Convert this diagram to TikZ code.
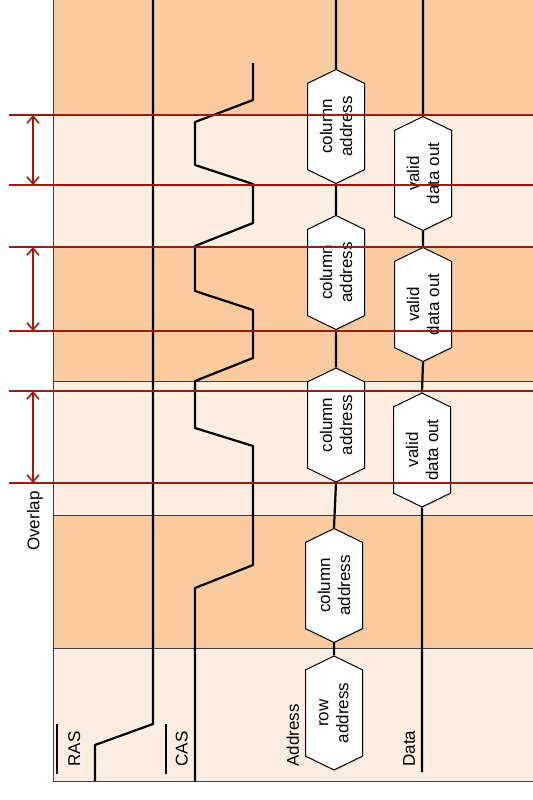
\documentclass[tikz,border=0pt]{standalone}
\usepackage{fontspec}
\setmainfont{Liberation Sans}
\usetikzlibrary{arrows.meta,shapes.symbols,shadows}
\definecolor{drk}{HTML}{F9CB9F}
\definecolor{lgt}{HTML}{FDEDE1}
\definecolor{ovl}{HTML}{9E1C0D}

\begin{document}
\begin{tikzpicture}[x=0.5pt,y=-0.5pt,
  sig/.style={line width=1.1pt,line join=round},
  hexa/.style={signal,signal to=east and west,signal pointer angle=128,
    draw,fill=white,line width=0.5pt,rotate=90,minimum width=57pt,
    minimum height=28.5pt,inner sep=0pt,align=center,
    font=\fontsize{8.5}{10}\selectfont,
    drop shadow={opacity=0.2,shadow xshift=0.6pt,shadow yshift=-0.6pt}},
  lbl/.style={rotate=90,inner sep=0pt,font=\fontsize{8.5}{10}\selectfont},
  >={Straight Barb[length=3.5pt,width=6pt]}]
  \useasboundingbox (0,0) rectangle (533,800);
  \clip (0,0) rectangle (533,800);
  % bands
  \foreach \ya/\yb/\c in {-5/115/drk,115/247/lgt,247/381/drk,381/515/lgt,515/648/drk,648/781/lgt}
    \draw[fill=\c,draw=black!75,line width=0.4pt] (53,\ya) rectangle (545,\yb);
  % RAS and CAS
  \draw[sig] (95,781)--(95,745)--(153,724)--(153,-5);
  \draw[sig] (253,63)--(253,100)--(195,122)--(195,165)--(253,184)--(253,223)
    --(195,246)--(195,291)--(253,310)--(253,358)--(195,381)--(195,428)
    --(253,446)--(253,565)--(195,588)--(195,781);
  % address bus
  \node[hexa] (ca1) at (336,126.5) {column\\address};
  \node[hexa] (ca2) at (336,272.5) {column\\address};
  \node[hexa] (ca3) at (336,425) {column\\address};
  \node[hexa] (ca4) at (334,585.5) {column\\address};
  \node[hexa] (ra) at (334,713) {row\\address};
  \coordinate (atop) at (336,-5);
  \draw[sig] (atop)--(ca1.east) (ca1.west)--(ca2.east) (ca2.west)--(ca3.east)
    (ca3.west)--(ca4.east) (ca4.west)--(ra.east);
  % data bus
  \node[hexa] (vd1) at (423,173.5) {valid\\data out};
  \node[hexa] (vd2) at (423,304.5) {valid\\data out};
  \node[hexa] (vd3) at (422,450) {valid\\data out};
  \coordinate (dtop) at (423,-5);
  \coordinate (dbot) at (422,772);
  \draw[sig] (dtop)--(vd1.east) (vd1.west)--(vd2.east) (vd2.west)--(vd3.east)
    (vd3.west)--(dbot);
  % overlap markers
  \foreach \y [count=\i] in {115,185,247,331,391,483} {
    \draw[ovl,line width=1pt] (9,\y)--(545,\y);
    \coordinate (m\i) at (33,\y);}
  \foreach \a/\b in {1/2,3/4,5/6}
    \draw[ovl,line width=0.8pt,<->] (m\a)--(m\b);
  % labels
  \node[lbl,anchor=base west] (ras) at (80,767) {RAS};
  \node[lbl,anchor=base west] (cas) at (187.5,767) {CAS};
  \node[lbl,anchor=base west] (adr) at (299,767) {Address};
  \node[lbl,anchor=base west] (dat) at (415,767) {Data};
  \node[lbl] (ovp) at (35,521) {Overlap};
  \draw[line width=0.9pt] (57,724)--(57,774);
  \draw[line width=0.9pt] (166,724)--(166,774);
\end{tikzpicture}
\end{document}
